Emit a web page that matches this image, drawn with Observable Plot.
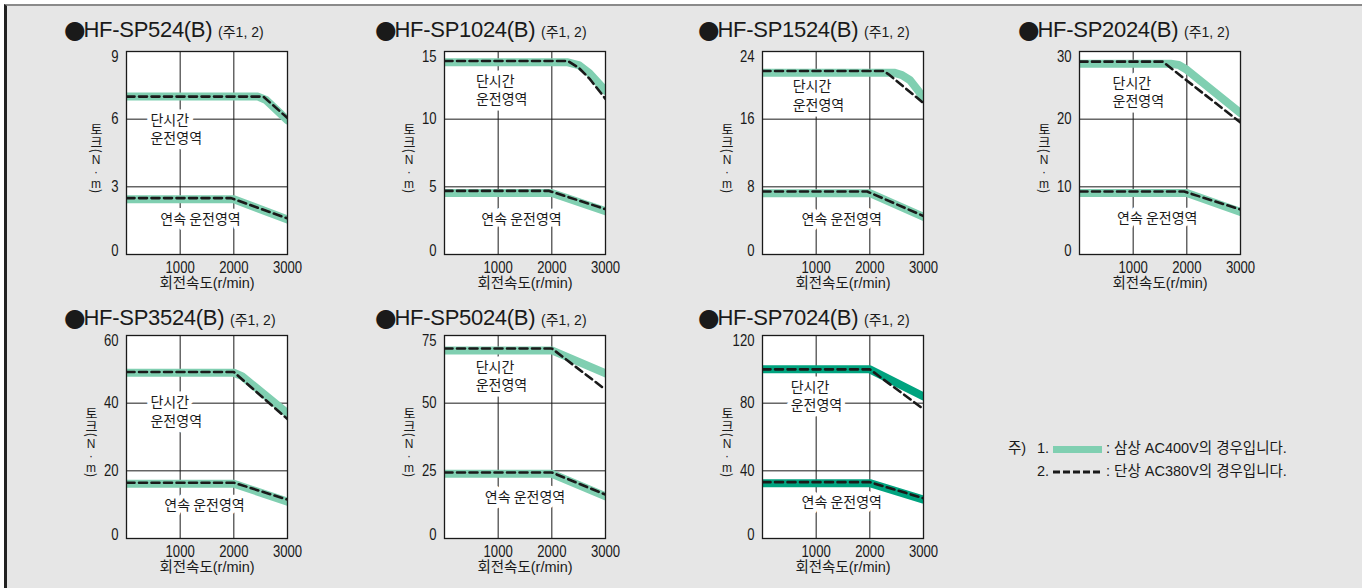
<!DOCTYPE html>
<html><head><meta charset="utf-8">
<script src="https://cdn.jsdelivr.net/npm/d3@7"></script>
<script src="https://cdn.jsdelivr.net/npm/@observablehq/plot@0.6"></script>
<style>
body{margin:0;background:#fff;}
#root{position:relative;width:1362px;height:588px;overflow:hidden;font-family:"Liberation Sans","Noto Sans CJK KR",sans-serif;color:#1a1a1a;}
#bg{position:absolute;left:4px;top:4px;right:0;bottom:0;background:#e6e6e6;border-left:3px solid #222;border-top:2px solid #8a8a8a;}
.title{position:absolute;white-space:nowrap;font-family:"Liberation Sans","Noto Sans CJK KR",sans-serif;font-size:22px;line-height:14px;letter-spacing:-0.3px;}
.title .dot{font-family:"DejaVu Sans";font-size:25px;line-height:14px;position:relative;top:1px;margin-right:-2px;}
.title .note{font-family:"Liberation Sans","Noto Sans CJK KR",sans-serif;font-size:14px;letter-spacing:0;}
.ylab{position:absolute;writing-mode:vertical-rl;text-orientation:mixed;font-family:"Noto Sans CJK KR",sans-serif;font-size:13px;line-height:14px;transform:translate(-50%,-50%);white-space:nowrap;}
.ylab .up{text-orientation:upright;font-family:"Liberation Sans",sans-serif;font-size:12px;letter-spacing:-2px;}
.panel{position:absolute;}
.legend{position:absolute;font-family:"Liberation Sans","Noto Sans CJK KR",sans-serif;font-size:14.5px;white-space:nowrap;line-height:16px;}
</style></head>
<body><div id="root"><div id="bg"></div></div>
<script>
// ---------- data ----------
const models = ["HF-SP524(B)","HF-SP1024(B)","HF-SP1524(B)","HF-SP2024(B)","HF-SP3524(B)","HF-SP5024(B)","HF-SP7024(B)"];
const noteText = "(주1, 2)";
const speedTicks = [1000, 2000, 3000];
const yTickSets = [[0,3,6,9],[0,5,10,15],[0,8,16,24],[0,10,20,30],[0,20,40,60],[0,25,50,75],[0,40,80,120]];
const xLabel = "회전속도(r/min)";
const yLabelMain = "토크";
const yLabelUnit = "N·m";
const shortLabel = "단시간\n운전영역";
const contLabel = "연속 운전영역";

// [speed r/min, torque N·m]
const ac400Short = [
  [[0,7.0],[2450,7.0],[2600,6.85],[3000,5.95]],
  [[0,14.2],[2300,14.2],[2500,14.0],[2700,13.4],[3000,12.1]],
  [[0,21.5],[2450,21.5],[2600,21.2],[2750,20.6],[2900,19.4],[3000,18.4]],
  [[0,28.2],[1700,28.2],[1850,28.0],[2000,27.3],[3000,20.9]],
  [[0,49.0],[2000,49.0],[2150,48.0],[3000,37.0]],
  [[0,69.5],[2000,69.5],[3000,61.0]],
  [[0,100.0],[2000,100.0],[3000,84.0]]
];
const ac380Short = [
  [[0,7.0],[2550,7.0],[3000,6.05]],
  [[0,14.3],[2300,14.3],[2500,13.8],[2700,13.0],[3000,11.5]],
  [[0,21.7],[2250,21.7],[2350,21.3],[3000,17.9]],
  [[0,28.5],[1550,28.5],[3000,19.5]],
  [[0,49.2],[2000,49.2],[3000,35.3]],
  [[0,70.2],[2000,70.2],[3000,55.0]],
  [[0,100.0],[2000,100.0],[3000,76.5]]
];
const ac400Cont = [
  [[0,2.45],[2000,2.45],[3000,1.55]],
  [[0,4.55],[2000,4.55],[3000,3.2]],
  [[0,7.25],[2000,7.25],[3000,4.45]],
  [[0,9.1],[2000,9.1],[3000,6.3]],
  [[0,16.2],[2000,16.2],[3000,10.9]],
  [[0,23.9],[2000,23.9],[3000,15.6]],
  [[0,32.7],[2000,32.7],[3000,23.0]]
];
const ac380Cont = [
  [[0,2.5],[1950,2.5],[3000,1.6]],
  [[0,4.7],[1950,4.7],[3000,3.35]],
  [[0,7.45],[1950,7.45],[3000,4.55]],
  [[0,9.3],[1950,9.3],[3000,6.65]],
  [[0,16.5],[2000,16.5],[3000,11.5]],
  [[0,24.4],[2000,24.4],[3000,16.2]],
  [[0,33.3],[2000,33.3],[3000,23.8]]
];
// region label anchors in data units
const shortLabelAt = [[447,5.6],[585,12.2],[562,18.9],[615,24.1],[447,37.8],[581,60.2],[525,84.5]];
const contLabelAt = [[1379,1.53],[1434,2.59],[1476,4.14],[1448,5.3],[1453,9.75],[1500,15.0],[1476,21.1]];

const legendItems = ["1.", "2."];
const legendTexts = [": 삼상 AC400V의 경우입니다.", ": 단상 AC380V의 경우입니다."];

// ---------- fonts ----------
function measure(font) {
  const c = document.createElement("canvas").getContext("2d");
  c.font = font; return c.measureText("1000 HF-SP").width;
}
const narrowOK = measure('16px "Liberation Sans Narrow", monospace') < 0.9 * measure('16px "Liberation Sans", monospace');
const tickFont = narrowOK ? '"Liberation Sans Narrow",sans-serif' : '"Liberation Sans",sans-serif';
const squeeze = narrowOK ? 1 : 0.82;

// ---------- layout ----------
const colLeft = [126, 444, 762, 1079];
const rowTop = [51, 335];
const titleTop = [22, 310];
const titleLeft = [64, 375, 698, 1018];
const FW = 161, FH = 203;
const ML = 44, MR = 24, MT = 10, MB = 50;
const greenLight = "#80cfb1", greenDark = "#00a37f";
const ink = "#1a1a1a";
const root = document.getElementById("root");

models.forEach((m, i) => {
  const col = i % 4, row = Math.floor(i / 4);
  const ticks = yTickSets[i];
  const ymax = ticks[ticks.length - 1];
  const green = i === 6 ? greenDark : greenLight;
  const fx = d => d[0], fy = d => d[1];
  const korean = '"Noto Sans CJK KR",sans-serif';
  const yAxisOpts = {tickSize: 0, tickPadding: 8, label: null, tickFormat: d => String(d)};
  const chart = Plot.plot({
    width: FW + ML + MR, height: FH + MT + MB,
    marginLeft: ML, marginRight: MR, marginTop: MT, marginBottom: MB,
    style: {background: "transparent", fontFamily: tickFont, fontSize: "16px", color: ink, overflow: "visible"},
    x: {domain: [0, 3000]},
    y: {domain: [0, ymax]},
    marks: [
      Plot.frame({fill: "white", stroke: "none"}),
      Plot.gridX(speedTicks.slice(0, 2), {stroke: ink, strokeOpacity: 1, strokeWidth: 1}),
      Plot.gridY(ticks.slice(1, -1), {stroke: ink, strokeOpacity: 1, strokeWidth: 1}),
      // white halos behind region labels
      Plot.text([shortLabelAt[i]], {x: fx, y: fy, text: () => shortLabel, textAnchor: "start", lineHeight: 1.3, fontSize: 14, fontFamily: korean, fill: "white", stroke: "white", strokeWidth: 9}),
      Plot.text([contLabelAt[i]], {x: fx, y: fy, text: () => contLabel, fontSize: 14, fontFamily: korean, fill: "white", stroke: "white", strokeWidth: 9}),
      Plot.text([shortLabelAt[i]], {x: fx, y: fy, text: () => shortLabel, textAnchor: "start", lineHeight: 1.3, fontSize: 14, fontFamily: korean, fill: ink}),
      Plot.text([contLabelAt[i]], {x: fx, y: fy, text: () => contLabel, fontSize: 14, fontFamily: korean, fill: ink}),
      Plot.line(ac400Short[i], {x: fx, y: fy, stroke: green, strokeWidth: 8, clip: true}),
      Plot.line(ac400Cont[i], {x: fx, y: fy, stroke: green, strokeWidth: 8, clip: true}),
      Plot.line(ac380Short[i], {x: fx, y: fy, stroke: ink, strokeWidth: 2.6, strokeDasharray: "8,4.5", clip: true}),
      Plot.line(ac380Cont[i], {x: fx, y: fy, stroke: ink, strokeWidth: 2.6, strokeDasharray: "8,4.5", clip: true}),
      Plot.frame({stroke: ink, strokeWidth: 1.3}),
      Plot.axisX({ticks: speedTicks, tickSize: 0, tickPadding: 7, label: null, tickFormat: d => String(d)}),
      Plot.axisY({...yAxisOpts, ticks: ticks.slice(1, -1)}),
      Plot.axisY({...yAxisOpts, ticks: [ymax], dy: 5}),
      Plot.axisY({...yAxisOpts, ticks: [0], dy: -3.5}),
      Plot.text([xLabel], {frameAnchor: "bottom", dy: 33, text: d => d, fontSize: 14.5, fontFamily: '"Liberation Sans","Noto Sans CJK KR",sans-serif', fill: ink})
    ]
  });
  const holder = document.createElement("div");
  holder.className = "panel";
  holder.style.left = (colLeft[col] - ML) + "px";
  holder.style.top = (rowTop[row] - MT) + "px";
  holder.appendChild(chart);
  root.appendChild(holder);
  if (squeeze !== 1) {
    chart.querySelectorAll('g[aria-label="x-axis tick label"] text, g[aria-label="y-axis tick label"] text').forEach(t => {
      const len = t.getComputedTextLength();
      t.setAttribute("textLength", (len * squeeze).toFixed(2));
      t.setAttribute("lengthAdjust", "spacingAndGlyphs");
    });
  }

  const t = document.createElement("div");
  t.className = "title";
  t.style.left = titleLeft[col] + "px";
  t.style.top = titleTop[row] + "px";
  t.innerHTML = `<span class="dot">●</span>${m} <span class="note">${noteText}</span>`;
  root.appendChild(t);

  const yl = document.createElement("div");
  yl.className = "ylab";
  yl.innerHTML = `${yLabelMain}(<span class="up">${yLabelUnit}</span>)`;
  yl.style.left = (colLeft[col] - (ymax >= 10 ? 35 : 30)) + "px";
  yl.style.top = (rowTop[row] + FH / 2 + 5) + "px";
  root.appendChild(yl);
});

// legend
const lg = document.createElement("div");
lg.className = "legend";
lg.style.left = "1008px"; lg.style.top = "440px";
lg.innerHTML = `
<div style="position:relative;height:23px"><span style="position:absolute;left:0;top:0">주)</span>
<span style="position:absolute;left:29px;top:0">${legendItems[0]}</span>
<span style="position:absolute;left:45px;top:6px;width:49px;height:7px;background:${greenLight}"></span>
<span style="position:absolute;left:98px;top:0">${legendTexts[0]}</span></div>
<div style="position:relative;height:23px">
<span style="position:absolute;left:29px;top:0">${legendItems[1]}</span>
<svg style="position:absolute;left:45px;top:6px" width="49" height="6"><line x1="0" x2="49" y1="3" y2="3" stroke="${ink}" stroke-width="3" stroke-dasharray="7,3"/></svg>
<span style="position:absolute;left:98px;top:0">${legendTexts[1]}</span></div>`;
root.appendChild(lg);
</script>
</body></html>
